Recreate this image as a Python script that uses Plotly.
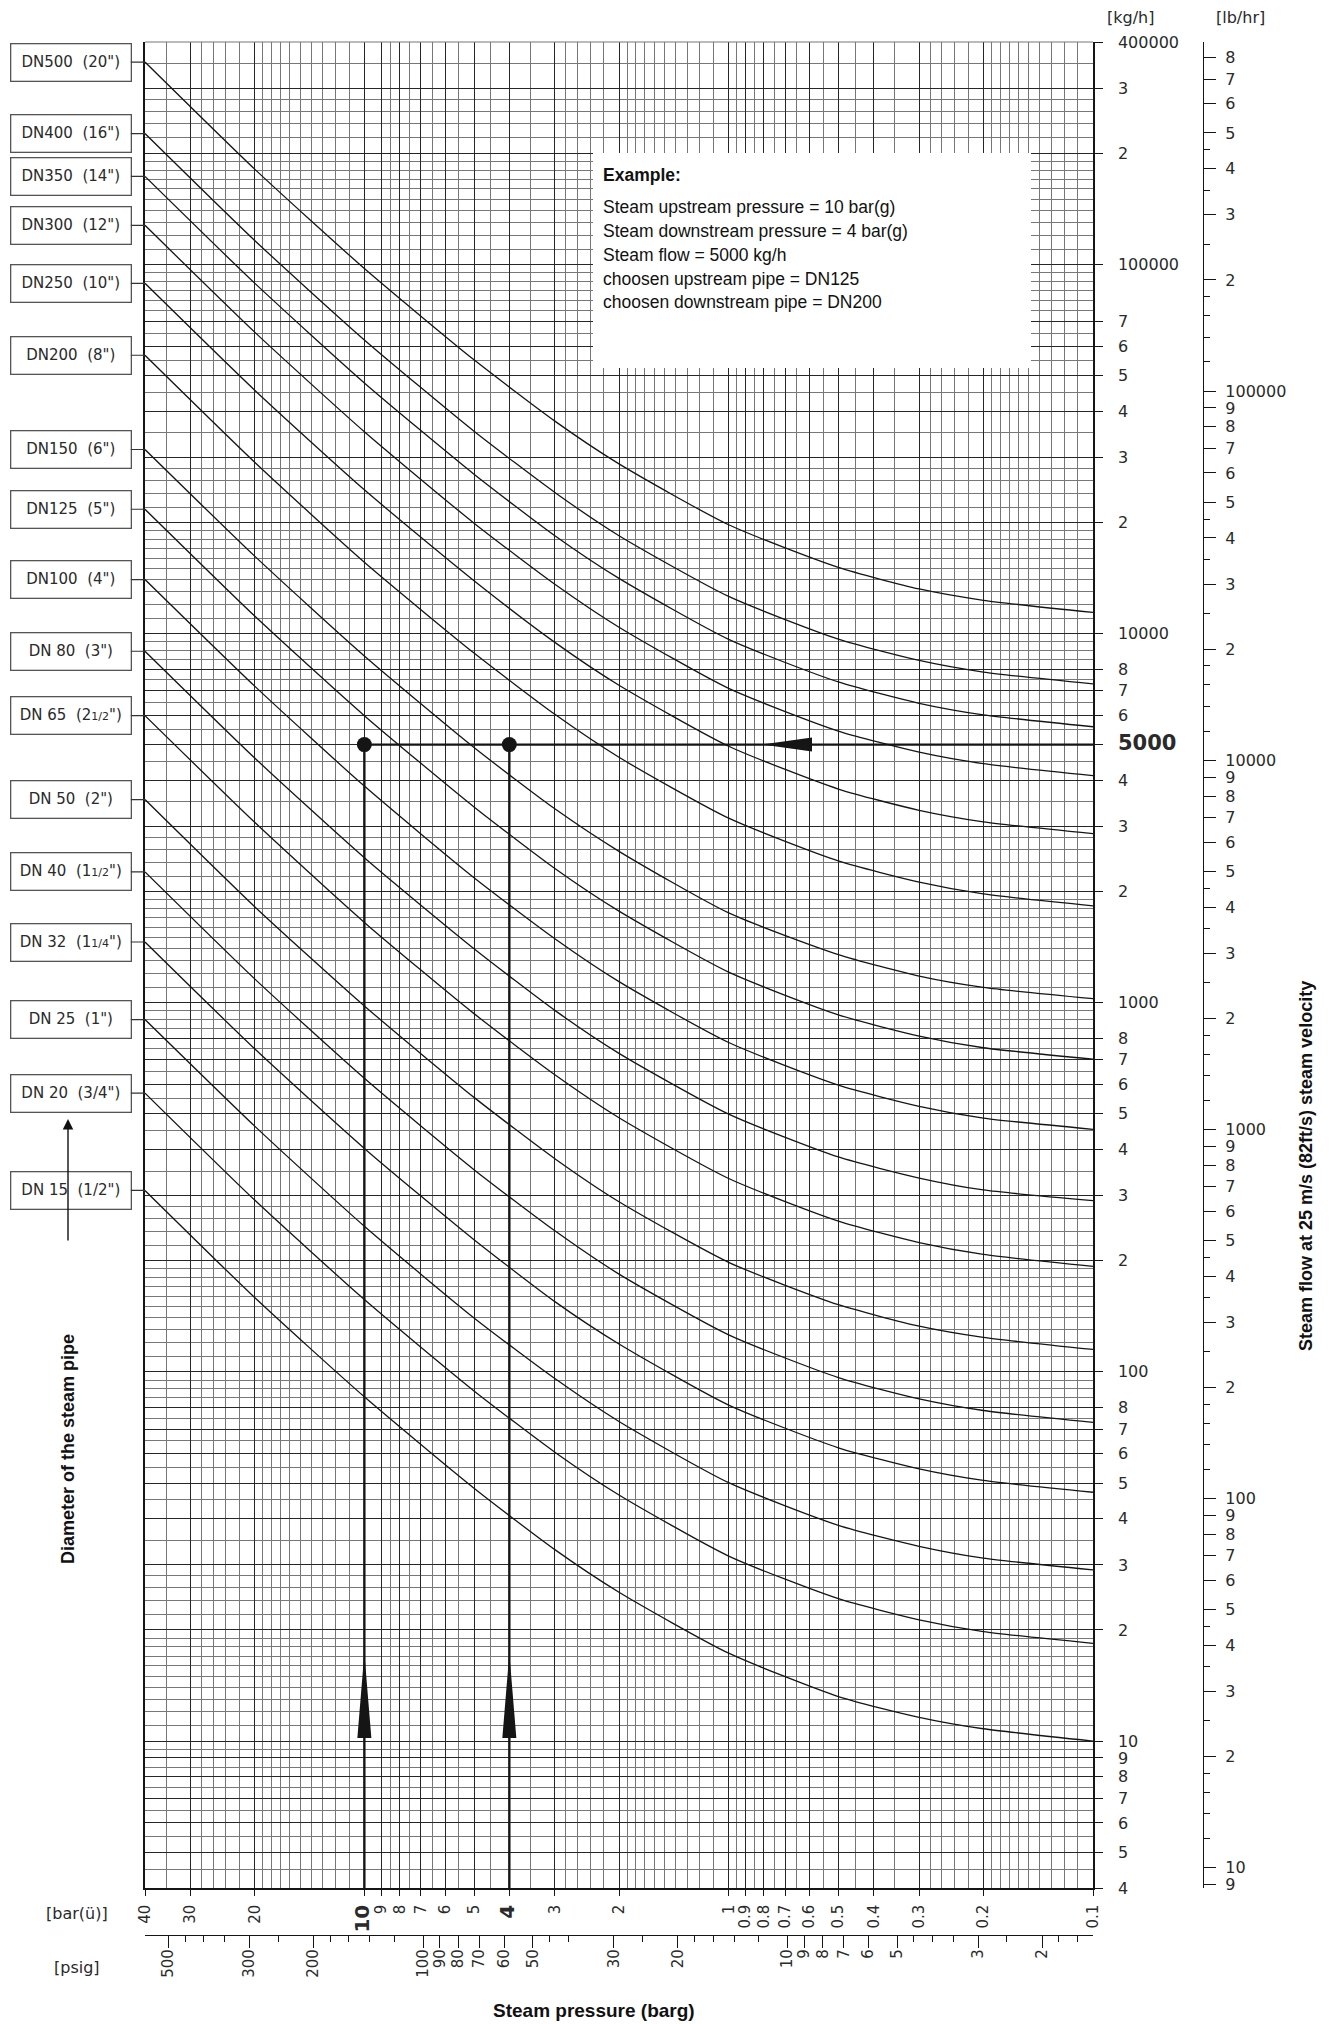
import math
import plotly.graph_objects as go

# ---------------- data ----------------
pressure_barg = [40, 20, 10, 5, 3, 2, 1, 0.5, 0.3, 0.2, 0.1]

dn_labels = [
    'DN500\u00a0\u00a0(20")', 'DN400\u00a0\u00a0(16")', 'DN350\u00a0\u00a0(14")',
    'DN300\u00a0\u00a0(12")', 'DN250\u00a0\u00a0(10")', 'DN200\u00a0\u00a0(8")',
    'DN150\u00a0\u00a0(6")', 'DN125\u00a0\u00a0(5")', 'DN100\u00a0\u00a0(4")',
    'DN\u00a080\u00a0\u00a0(3")',
    "DN\u00a065\u00a0\u00a0(2<span style='font-size:11px'>1/2</span>\")",
    'DN\u00a050\u00a0\u00a0(2")',
    "DN\u00a040\u00a0\u00a0(1<span style='font-size:11px'>1/2</span>\")",
    "DN\u00a032\u00a0\u00a0(1<span style='font-size:11px'>1/4</span>\")",
    'DN\u00a025\u00a0\u00a0(1")', 'DN\u00a020\u00a0\u00a0(3/4")', 'DN\u00a015\u00a0\u00a0(1/2")',
]

flow_dn500 = [353000, 181000, 97400, 55100, 37600, 28800, 19700, 15100, 13200, 12300, 11400]
flow_dn400 = [226000, 116000, 62400, 35300, 24100, 18400, 12600, 9650, 8450, 7860, 7300]
flow_dn350 = [173000, 88900, 47700, 27000, 18400, 14100, 9640, 7390, 6470, 6020, 5590]
flow_dn300 = [127500, 65500, 35200, 19900, 13600, 10400, 7100, 5440, 4770, 4440, 4120]
flow_dn250 = [88800, 45600, 24500, 13900, 9460, 7240, 4950, 3790, 3320, 3090, 2870]
flow_dn200 = [56700, 29100, 15600, 8850, 6040, 4620, 3160, 2420, 2120, 1970, 1830]
flow_dn150 = [31500, 16200, 8690, 4910, 3350, 2570, 1750, 1350, 1180, 1100, 1025]
flow_dn125 = [21700, 11150, 5990, 3390, 2310, 1770, 1210, 927, 812, 755, 703]
flow_dn100 = [14000, 7200, 3860, 2180, 1490, 1140, 780, 598, 524, 487, 454]
flow_dn80 = [8950, 4600, 2470, 1400, 953, 729, 499, 382, 335, 311, 291]
flow_dn65 = [5990, 3080, 1650, 934, 638, 488, 334, 256, 224, 208, 193]
flow_dn50 = [3550, 1820, 980, 554, 378, 289, 198, 152, 133, 124, 115]
flow_dn40 = [2260, 1160, 624, 353, 241, 184, 126, 96.5, 84.5, 78.6, 73.0]
flow_dn32 = [1460, 750, 403, 228, 155, 119, 81.3, 62.3, 54.6, 50.8, 47.2]
flow_dn25 = [900, 463, 248, 140, 95.9, 73.4, 50.1, 38.4, 33.7, 31.3, 29.1]
flow_dn20 = [569, 292, 157, 88.8, 60.6, 46.4, 31.7, 24.3, 21.3, 19.8, 18.4]
flow_dn15 = [310, 159, 85.6, 48.4, 33.0, 25.3, 17.3, 13.2, 11.6, 10.8, 10.0]

flows = [flow_dn500, flow_dn400, flow_dn350, flow_dn300, flow_dn250, flow_dn200,
         flow_dn150, flow_dn125, flow_dn100, flow_dn80, flow_dn65, flow_dn50,
         flow_dn40, flow_dn32, flow_dn25, flow_dn20, flow_dn15]

# example
example_upstream_barg = 10
example_downstream_barg = 4
example_flow_kgh = 5000
example_lines = ["<b>Example:</b>",
                 "Steam upstream pressure = 10 bar(g)",
                 "Steam downstream pressure = 4 bar(g)",
                 "Steam flow = 5000 kg/h",
                 "choosen upstream pipe = DN125",
                 "choosen downstream pipe = DN200"]

# tick labels
bar_tick_vals = [40, 30, 20, 10, 9, 8, 7, 6, 5, 4, 3, 2, 1, 0.9, 0.8, 0.7, 0.6, 0.5, 0.4, 0.3, 0.2, 0.1]
bar_tick_text = ["40", "30", "20", "<b><span style='font-size:20px'>10</span></b>", "9", "8", "7", "6", "5",
                 "<b><span style='font-size:20px'>4</span></b>", "3", "2", "1", "0.9", "0.8", "0.7", "0.6",
                 "0.5", "0.4", "0.3", "0.2", "0.1"]

psig_tick_vals = [500, 300, 200, 100, 90, 80, 70, 60, 50, 30, 20, 10, 9, 8, 7, 6, 5, 3, 2]
psig_tick_text = [str(v) for v in psig_tick_vals]
psig_minor_vals = [450, 400, 350, 250, 180, 160, 140, 120, 45, 40, 25, 18, 16, 14, 12,
                   4.5, 4, 3.5, 2.5, 1.8, 1.6]

kg_tick_vals = [400000, 300000, 200000, 100000, 70000, 60000, 50000, 40000, 30000, 20000,
                10000, 8000, 7000, 6000, 5000, 4000, 3000, 2000,
                1000, 800, 700, 600, 500, 400, 300, 200,
                100, 80, 70, 60, 50, 40, 30, 20,
                10, 9, 8, 7, 6, 5, 4]
kg_tick_text = ["400000", "3", "2", "100000", "7", "6", "5", "4", "3", "2",
                "10000", "8", "7", "6", "<b><span style='font-size:21px'>5000</span></b>", "4", "3", "2",
                "1000", "8", "7", "6", "5", "4", "3", "2",
                "100", "8", "7", "6", "5", "4", "3", "2",
                "10", "9", "8", "7", "6", "5", "4"]

lb_tick_vals = [800000, 700000, 600000, 500000, 400000, 300000, 200000, 100000,
                90000, 80000, 70000, 60000, 50000, 40000, 30000, 20000, 10000,
                9000, 8000, 7000, 6000, 5000, 4000, 3000, 2000, 1000,
                900, 800, 700, 600, 500, 400, 300, 200, 100,
                90, 80, 70, 60, 50, 40, 30, 20, 10, 9]
lb_tick_text = ["8", "7", "6", "5", "4", "3", "2", "100000",
                "9", "8", "7", "6", "5", "4", "3", "2", "10000",
                "9", "8", "7", "6", "5", "4", "3", "2", "1000",
                "9", "8", "7", "6", "5", "4", "3", "2", "100",
                "9", "8", "7", "6", "5", "4", "3", "2", "10", "9"]
lb_minor_vals = [450000, 350000, 250000, 180000, 160000, 140000, 120000,
                 45000, 35000, 25000, 18000, 16000, 14000, 12000,
                 4500, 3500, 2500, 1800, 1600, 1400, 1200,
                 450, 350, 250, 180, 160, 140, 120,
                 45, 35, 25, 18, 16, 14, 12]

KG_TO_LB = 2.20462
BAR_TO_PSI = 14.5038
P_MAX, P_MIN = 40, 0.1
F_MIN, F_MAX = 4, 400000

# ---------------- layout geometry ----------------
W, H = 1332, 2024
ML, MR, MT, MB = 145, 60, 42, 34
PW = W - ML - MR
PH = H - MT - MB
PLOT_RIGHT = 1093
PLOT_BOTTOM = 1888
x_dom_end = (PLOT_RIGHT - ML) / PW
y_dom_start = (H - MB - PLOT_BOTTOM) / PH


def px_x(px):
    return (px - ML) / PW


def px_y(py):
    return (H - MB - py) / PH


def grid_values(lo, hi, skip=()):
    mants = [1.0 + 0.1 * i for i in range(10)] + [2.0 + 0.2 * i for i in range(5)] + \
            [3.0 + 0.5 * i for i in range(14)]
    out = set()
    for e in range(-2, 7):
        for m in mants:
            v = round(m * 10 ** e, 8)
            if lo - 1e-9 <= v <= hi + 1e-9 and v not in skip:
                out.add(v)
    return sorted(out)


x_grid_all = grid_values(P_MIN, P_MAX, skip=(9.5,))
y_grid_all = grid_values(F_MIN, F_MAX)
x_minor = [v for v in x_grid_all if all(abs(v - t) > 1e-9 for t in bar_tick_vals)]
y_minor = [v for v in y_grid_all if all(abs(v - t) > 1e-9 for t in kg_tick_vals)]

THIN = "DejaVu Sans"
SANS = "Liberation Sans, Arial, sans-serif"
INK = "#151515"
DARKGRID = "#262626"
LIGHTGRID = "#777777"
TXT = "#2a2a2a"

fig = go.Figure()

for lab, fl in zip(dn_labels, flows):
    fig.add_trace(go.Scatter(x=pressure_barg, y=fl, mode="lines",
                             line=dict(color=INK, width=1.3, shape="spline", smoothing=0.6),
                             hoverinfo="skip", showlegend=False))

# example construction lines
fig.add_trace(go.Scatter(x=[example_upstream_barg, example_upstream_barg], y=[example_flow_kgh, F_MIN],
                         mode="lines", line=dict(color=INK, width=2.4), showlegend=False, hoverinfo="skip"))
fig.add_trace(go.Scatter(x=[example_downstream_barg, example_downstream_barg], y=[example_flow_kgh, F_MIN],
                         mode="lines", line=dict(color=INK, width=2.4), showlegend=False, hoverinfo="skip"))
fig.add_trace(go.Scatter(x=[example_upstream_barg, P_MIN], y=[example_flow_kgh, example_flow_kgh],
                         mode="lines", line=dict(color=INK, width=2.4), showlegend=False, hoverinfo="skip"))
fig.add_trace(go.Scatter(x=[example_upstream_barg, example_downstream_barg],
                         y=[example_flow_kgh, example_flow_kgh], mode="markers",
                         marker=dict(color=INK, size=15), showlegend=False, hoverinfo="skip"))

# invisible trace to activate secondary axes
fig.add_trace(go.Scatter(x=[10], y=[100], xaxis="x2", yaxis="y2", mode="markers",
                         marker=dict(opacity=0), showlegend=False, hoverinfo="skip"))

tickfont = dict(family=THIN, size=16, color=TXT)

fig.update_layout(
    width=W, height=H, template="none",
    margin=dict(l=ML, r=MR, t=MT, b=MB, autoexpand=False),
    paper_bgcolor="white", plot_bgcolor="white",
    showlegend=False,
    xaxis=dict(
        domain=[0, x_dom_end], type="log", range=[math.log10(P_MAX), math.log10(P_MIN)],
        anchor="y", side="bottom", automargin=False,
        tickmode="array", tickvals=bar_tick_vals, ticktext=bar_tick_text, tickangle=-90,
        ticks="outside", ticklen=6, tickcolor=INK, tickwidth=1,
        tickfont=dict(family=THIN, size=15, color=TXT), ticklabelstandoff=3,
        showline=True, linecolor=INK, linewidth=1.5,
        showgrid=True, gridcolor=DARKGRID, gridwidth=1, zeroline=False,
        minor=dict(tickmode="array", tickvals=x_minor, showgrid=True, gridcolor=LIGHTGRID,
                   gridwidth=1, ticks=""),
    ),
    xaxis2=dict(
        overlaying="x", anchor="free", position=px_y(1935), side="bottom", type="log",
        range=[math.log10(P_MAX * BAR_TO_PSI), math.log10(P_MIN * BAR_TO_PSI)],
        automargin=False,
        tickmode="array", tickvals=psig_tick_vals, ticktext=psig_tick_text, tickangle=-90,
        ticks="outside", ticklen=12, tickcolor=INK, tickwidth=1,
        tickfont=dict(family=THIN, size=15, color=TXT), ticklabelstandoff=-5,
        showline=True, linecolor=INK, linewidth=1.2, showgrid=False, zeroline=False,
        minor=dict(tickmode="array", tickvals=psig_minor_vals, ticks="outside", ticklen=6,
                   tickcolor=INK, showgrid=False),
    ),
    yaxis=dict(
        domain=[y_dom_start, 1], type="log", range=[math.log10(F_MIN), math.log10(F_MAX)],
        anchor="x", side="right", automargin=False,
        tickmode="array", tickvals=kg_tick_vals, ticktext=kg_tick_text,
        ticks="outside", ticklen=8, tickcolor=INK, tickwidth=1, tickfont=tickfont,
        ticklabelstandoff=12,
        showline=True, linecolor=INK, linewidth=1.5, mirror=True,
        showgrid=True, gridcolor=DARKGRID, gridwidth=1, zeroline=False,
        minor=dict(tickmode="array", tickvals=y_minor, showgrid=True, gridcolor=LIGHTGRID,
                   gridwidth=1, ticks=""),
    ),
    yaxis2=dict(
        overlaying="y", anchor="free", position=px_x(1203), side="right", type="log",
        range=[math.log10(F_MIN * KG_TO_LB), math.log10(F_MAX * KG_TO_LB)], automargin=False,
        tickmode="array", tickvals=lb_tick_vals, ticktext=lb_tick_text,
        ticks="outside", ticklen=12, tickcolor=INK, tickwidth=1, tickfont=tickfont,
        ticklabelstandoff=6,
        showline=True, linecolor=INK, linewidth=1.2, showgrid=False, zeroline=False,
        minor=dict(tickmode="array", tickvals=lb_minor_vals, ticks="outside", ticklen=6,
                   tickcolor=INK, showgrid=False),
    ),
)


def paper_note(px, py, text, font, **kw):
    d = dict(x=px_x(px), y=px_y(py), xref="paper", yref="paper", text=text, showarrow=False,
             xanchor="center", yanchor="middle", font=font)
    d.update(kw)
    return d


annotations = []
# DN labels with connector
for lab, fl in zip(dn_labels, flows):
    annotations.append(dict(
        x=math.log10(pressure_barg[0]), y=math.log10(fl[0]), xref="x", yref="y",
        text=lab, showarrow=True, arrowhead=0, arrowwidth=1.2, arrowcolor="#333",
        ax=-74.5, ay=0, axref="pixel", ayref="pixel", standoff=0,
        bgcolor="white", bordercolor="#555", borderwidth=1.3, borderpad=4,
        width=111, height=28, align="center", xanchor="center", yanchor="middle",
        font=dict(family=THIN, size=15, color=TXT)))

lab_font = dict(family=THIN, size=16, color=TXT)
annotations += [
    paper_note(1130, 17, "[kg/h]", lab_font),
    paper_note(1240, 17, "[lb/hr]", lab_font),
    paper_note(77, 1913, "[bar(ü)]", lab_font),
    paper_note(77, 1967, "[psig]", lab_font),
    paper_note(594, 2010, "<b>Steam pressure (barg)</b>", dict(family=SANS, size=19, color="#111")),
    paper_note(1306, 1166, "<b>Steam flow at 25 m/s (82ft/s) steam velocity</b>",
               dict(family=SANS, size=18, color="#111"), textangle=-90),
    paper_note(68, 1449, "<b>Diameter of the steam pipe</b>",
               dict(family=SANS, size=18, color="#111"), textangle=-90),
    dict(x=px_x(68), y=px_y(1119), xref="paper", yref="paper", text="",
         showarrow=True, arrowhead=2, arrowsize=1.5, arrowwidth=1.4, arrowcolor="#111",
         ax=0, ay=123),
]
example_y = [175, 207, 231, 255, 279, 302]
for txt, yy in zip(example_lines, example_y):
    annotations.append(dict(x=px_x(601), y=px_y(yy), xref="paper", yref="paper",
                            xanchor="left", yanchor="middle", align="left", showarrow=False,
                            text=txt, font=dict(family=SANS, size=17.5, color="#111")))

shapes = [
    # white example box
    dict(type="rect", xref="paper", yref="paper", x0=px_x(593), x1=px_x(1031),
         y0=px_y(368), y1=px_y(153), fillcolor="white", line=dict(width=0), layer="above"),
    # top border (gray)
    dict(type="line", xref="x domain", yref="y domain", x0=0, x1=1, y0=1, y1=1,
         line=dict(color=LIGHTGRID, width=1)),
]
# upward arrowheads on the pressure lines
for p in (example_upstream_barg, example_downstream_barg):
    shapes.append(dict(type="path", xref="x", yref="y", xsizemode="pixel", ysizemode="pixel",
                       xanchor=p, yanchor=F_MIN, path="M -7,150 L 0,235 L 7,150 Z",
                       fillcolor=INK, line=dict(width=0), layer="above"))
    shapes.append(dict(type="line", xref="x", yref="y", ysizemode="pixel", yanchor=F_MIN,
                       x0=p, x1=p, y0=0, y1=-14, line=dict(color=INK, width=2.4)))
# leftward arrowhead on the flow line
shapes.append(dict(type="path", xref="x", yref="y", xsizemode="pixel", ysizemode="pixel",
                   xanchor=0.81, yanchor=example_flow_kgh, path="M 0,0 L 50,7 L 50,-7 Z",
                   fillcolor=INK, line=dict(width=0), layer="above"))

fig.update_layout(annotations=annotations, shapes=shapes)

fig.write_html("out.html", config={"displayModeBar": False},
               post_script="document.body.style.margin='0px';document.body.style.overflow='hidden';")
